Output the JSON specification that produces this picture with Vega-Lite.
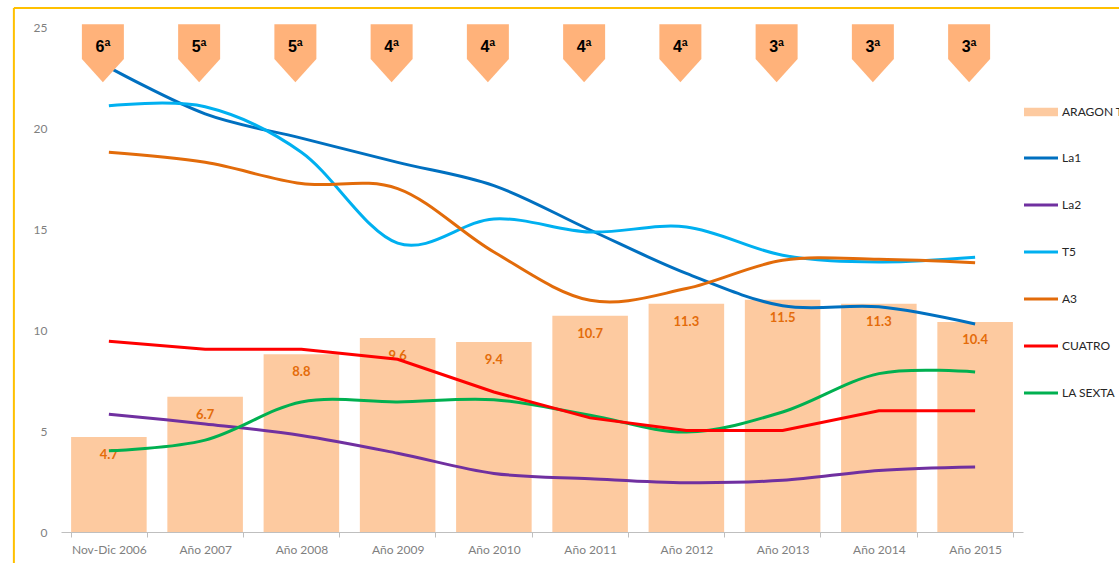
{
  "$schema": "https://vega.github.io/schema/vega-lite/v6.json",
  "autosize": "none",
  "width": 962,
  "height": 505,
  "padding": {"left": 61, "top": 27, "right": 96, "bottom": 31},
  "background": "white",
  "config": {
    "view": {"stroke": null},
    "font": "Lato"
  },
  "datasets": {
    "bars": [
      {"periodo": "Nov-Dic 2006", "aragon": 4.7},
      {"periodo": "Año 2007", "aragon": 6.7},
      {"periodo": "Año 2008", "aragon": 8.8},
      {"periodo": "Año 2009", "aragon": 9.6},
      {"periodo": "Año 2010", "aragon": 9.4},
      {"periodo": "Año 2011", "aragon": 10.7},
      {"periodo": "Año 2012", "aragon": 11.3},
      {"periodo": "Año 2013", "aragon": 11.5},
      {"periodo": "Año 2014", "aragon": 11.3},
      {"periodo": "Año 2015", "aragon": 10.4}
    ],
    "ranks": [
      {"periodo": "Nov-Dic 2006", "puesto": "6ª"},
      {"periodo": "Año 2007", "puesto": "5ª"},
      {"periodo": "Año 2008", "puesto": "5ª"},
      {"periodo": "Año 2009", "puesto": "4ª"},
      {"periodo": "Año 2010", "puesto": "4ª"},
      {"periodo": "Año 2011", "puesto": "4ª"},
      {"periodo": "Año 2012", "puesto": "4ª"},
      {"periodo": "Año 2013", "puesto": "3ª"},
      {"periodo": "Año 2014", "puesto": "3ª"},
      {"periodo": "Año 2015", "puesto": "3ª"}
    ],
    "lines": [
      {"periodo": "Nov-Dic 2006", "cadena": "La1", "cuota": 23.0},
      {"periodo": "Año 2007", "cadena": "La1", "cuota": 20.7},
      {"periodo": "Año 2008", "cadena": "La1", "cuota": 19.5},
      {"periodo": "Año 2009", "cadena": "La1", "cuota": 18.3},
      {"periodo": "Año 2010", "cadena": "La1", "cuota": 17.15},
      {"periodo": "Año 2011", "cadena": "La1", "cuota": 14.95},
      {"periodo": "Año 2012", "cadena": "La1", "cuota": 12.8},
      {"periodo": "Año 2013", "cadena": "La1", "cuota": 11.2},
      {"periodo": "Año 2014", "cadena": "La1", "cuota": 11.15},
      {"periodo": "Año 2015", "cadena": "La1", "cuota": 10.3},
      {"periodo": "Nov-Dic 2006", "cadena": "La2", "cuota": 5.83},
      {"periodo": "Año 2007", "cadena": "La2", "cuota": 5.35},
      {"periodo": "Año 2008", "cadena": "La2", "cuota": 4.78},
      {"periodo": "Año 2009", "cadena": "La2", "cuota": 3.9},
      {"periodo": "Año 2010", "cadena": "La2", "cuota": 2.9},
      {"periodo": "Año 2011", "cadena": "La2", "cuota": 2.64},
      {"periodo": "Año 2012", "cadena": "La2", "cuota": 2.44},
      {"periodo": "Año 2013", "cadena": "La2", "cuota": 2.56},
      {"periodo": "Año 2014", "cadena": "La2", "cuota": 3.05},
      {"periodo": "Año 2015", "cadena": "La2", "cuota": 3.22},
      {"periodo": "Nov-Dic 2006", "cadena": "T5", "cuota": 21.1},
      {"periodo": "Año 2007", "cadena": "T5", "cuota": 21.05},
      {"periodo": "Año 2008", "cadena": "T5", "cuota": 18.8},
      {"periodo": "Año 2009", "cadena": "T5", "cuota": 14.3},
      {"periodo": "Año 2010", "cadena": "T5", "cuota": 15.5},
      {"periodo": "Año 2011", "cadena": "T5", "cuota": 14.85},
      {"periodo": "Año 2012", "cadena": "T5", "cuota": 15.1},
      {"periodo": "Año 2013", "cadena": "T5", "cuota": 13.7},
      {"periodo": "Año 2014", "cadena": "T5", "cuota": 13.37},
      {"periodo": "Año 2015", "cadena": "T5", "cuota": 13.6},
      {"periodo": "Nov-Dic 2006", "cadena": "A3", "cuota": 18.8},
      {"periodo": "Año 2007", "cadena": "A3", "cuota": 18.3},
      {"periodo": "Año 2008", "cadena": "A3", "cuota": 17.25},
      {"periodo": "Año 2009", "cadena": "A3", "cuota": 17.0},
      {"periodo": "Año 2010", "cadena": "A3", "cuota": 13.86},
      {"periodo": "Año 2011", "cadena": "A3", "cuota": 11.47},
      {"periodo": "Año 2012", "cadena": "A3", "cuota": 12.05},
      {"periodo": "Año 2013", "cadena": "A3", "cuota": 13.45},
      {"periodo": "Año 2014", "cadena": "A3", "cuota": 13.5},
      {"periodo": "Año 2015", "cadena": "A3", "cuota": 13.33},
      {"periodo": "Nov-Dic 2006", "cadena": "CUATRO", "cuota": 9.44},
      {"periodo": "Año 2007", "cadena": "CUATRO", "cuota": 9.05},
      {"periodo": "Año 2008", "cadena": "CUATRO", "cuota": 9.05},
      {"periodo": "Año 2009", "cadena": "CUATRO", "cuota": 8.55},
      {"periodo": "Año 2010", "cadena": "CUATRO", "cuota": 6.93},
      {"periodo": "Año 2011", "cadena": "CUATRO", "cuota": 5.65},
      {"periodo": "Año 2012", "cadena": "CUATRO", "cuota": 5.03},
      {"periodo": "Año 2013", "cadena": "CUATRO", "cuota": 5.03},
      {"periodo": "Año 2014", "cadena": "CUATRO", "cuota": 6.0},
      {"periodo": "Año 2015", "cadena": "CUATRO", "cuota": 6.0},
      {"periodo": "Nov-Dic 2006", "cadena": "LA SEXTA", "cuota": 4.02},
      {"periodo": "Año 2007", "cadena": "LA SEXTA", "cuota": 4.55},
      {"periodo": "Año 2008", "cadena": "LA SEXTA", "cuota": 6.44},
      {"periodo": "Año 2009", "cadena": "LA SEXTA", "cuota": 6.44},
      {"periodo": "Año 2010", "cadena": "LA SEXTA", "cuota": 6.55},
      {"periodo": "Año 2011", "cadena": "LA SEXTA", "cuota": 5.78},
      {"periodo": "Año 2012", "cadena": "LA SEXTA", "cuota": 4.95},
      {"periodo": "Año 2013", "cadena": "LA SEXTA", "cuota": 5.94},
      {"periodo": "Año 2014", "cadena": "LA SEXTA", "cuota": 7.84},
      {"periodo": "Año 2015", "cadena": "LA SEXTA", "cuota": 7.92}
    ]
  },
  "encoding": {
    "x": {
      "field": "periodo",
      "type": "nominal",
      "sort": null,
      "scale": {"paddingInner": 0.215, "paddingOuter": 0.105},
      "axis": {
        "title": null,
        "labelAngle": 0,
        "domainColor": "#BFBFBF",
        "tickColor": "#BFBFBF",
        "tickBand": "extent",
        "tickSize": 5,
        "labelPadding": 7,
        "labelColor": "#7F7F7F",
        "labelFontSize": 12,
        "labelFont": "Lato"
      }
    }
  },
  "layer": [
    {
      "data": {"name": "bars"},
      "mark": {"type": "bar"},
      "encoding": {
        "y": {
          "field": "aragon",
          "type": "quantitative",
          "scale": {"domain": [0, 25], "nice": false, "zero": true},
          "axis": {
            "title": null,
            "values": [0, 5, 10, 15, 20, 25],
            "domain": false,
            "ticks": false,
            "grid": false,
            "labelPadding": 14,
            "labelColor": "#7F7F7F",
            "labelFontSize": 12,
            "labelFont": "Lato"
          }
        },
        "fill": {
          "datum": "ARAGON TV",
          "type": "nominal",
          "scale": {"domain": ["ARAGON TV"], "range": ["#FDCAA0"]},
          "legend": {
            "title": null,
            "orient": "none",
            "legendX": 963,
            "legendY": 68,
            "padding": 0,
            "symbolType": "M-1,-0.25H1V0.25H-1Z",
            "symbolSize": 1156,
            "symbolStrokeWidth": 0,
            "labelOffset": 4,
            "labelFontSize": 12,
            "labelFont": "Lato",
            "labelColor": "#262626",
            "labelLimit": 300
          }
        }
      }
    },
    {
      "data": {"values": [{"k": 1}]},
      "mark": {"type": "rule", "color": "#FFC000", "strokeWidth": 2, "xOffset": -95, "clip": false},
      "encoding": {
        "x": {"datum": "Nov-Dic 2006"},
        "y": {"datum": 25.94},
        "y2": {"datum": -3}
      }
    },
    {
      "data": {"values": [{"k": 1}]},
      "mark": {"type": "rule", "color": "#FFC000", "strokeWidth": 2, "xOffset": -95, "x2Offset": 200, "clip": false},
      "encoding": {
        "x": {"datum": "Nov-Dic 2006"},
        "x2": {"datum": "Año 2015"},
        "y": {"datum": 25.94}
      }
    },
    {
      "data": {"name": "bars"},
      "mark": {"type": "text", "dy": 18, "baseline": "middle", "fontWeight": "bold", "fontSize": 13, "color": "#E46C0A", "font": "Lato"},
      "encoding": {
        "y": {"field": "aragon", "type": "quantitative"},
        "text": {"field": "aragon", "type": "quantitative", "format": ".1f"}
      }
    },
    {
      "data": {"name": "lines"},
      "transform": [{"filter": "datum.cadena !== 'CUATRO'"}],
      "mark": {"type": "line", "interpolate": "cardinal", "tension": 0, "strokeWidth": 3},
      "encoding": {
        "y": {"field": "cuota", "type": "quantitative"},
        "color": {
          "field": "cadena",
          "type": "nominal",
          "scale": {
            "domain": ["La1", "La2", "T5", "A3", "CUATRO", "LA SEXTA"],
            "range": ["#0070C0", "#7030A0", "#00B0F0", "#E26B0A", "#FF0000", "#00B050"]
          },
          "legend": {
            "title": null,
            "orient": "none",
            "legendX": 961.5,
            "legendY": 112.5,
            "padding": 0,
            "symbolType": "stroke",
            "symbolSize": 1156,
            "symbolStrokeWidth": 3,
            "rowPadding": 22,
            "labelOffset": 2.5,
            "labelFontSize": 12,
            "labelFont": "Lato",
            "labelColor": "#262626",
            "labelLimit": 300
          }
        }
      }
    },
    {
      "data": {"name": "lines"},
      "transform": [{"filter": "datum.cadena === 'CUATRO'"}],
      "mark": {"type": "line", "interpolate": "linear", "strokeWidth": 3},
      "encoding": {
        "y": {"field": "cuota", "type": "quantitative"},
        "color": {"field": "cadena", "type": "nominal"}
      }
    },
    {
      "data": {"name": "ranks"},
      "mark": {
        "type": "point",
        "shape": "M-0.724,-1H0.724V0.2L0,1L-0.724,0.2Z",
        "size": 3364,
        "filled": true,
        "color": "#FFB27A",
        "opacity": 1,
        "strokeWidth": 0,
        "xOffset": -6
      },
      "encoding": {
        "y": {"datum": 23.7}
      }
    },
    {
      "data": {"name": "ranks"},
      "mark": {"type": "text", "fontWeight": "bold", "fontSize": 16, "color": "#000000", "baseline": "middle", "xOffset": -6, "font": "Liberation Sans"},
      "encoding": {
        "y": {"datum": 24.0},
        "text": {"field": "puesto", "type": "nominal"}
      }
    }
  ]
}
